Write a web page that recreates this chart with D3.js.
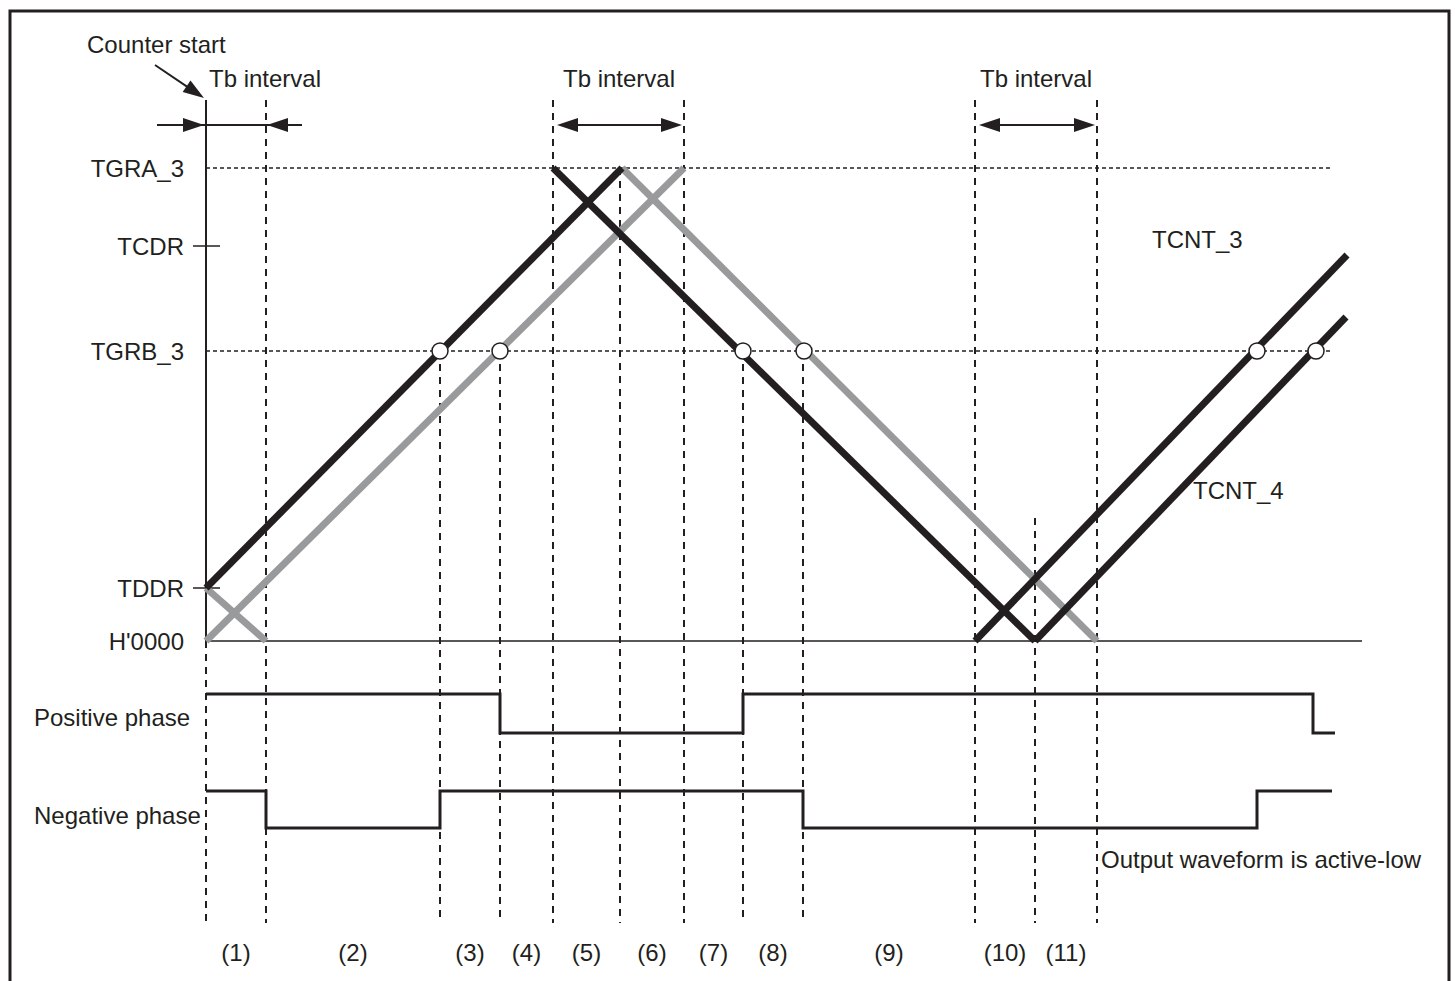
<!DOCTYPE html>
<html>
<head>
  <meta http-equiv="Content-Type" content="text/html; charset=UTF-8">
  <style>
    body { margin: 0; background: #fff; }
    text {
      font-family: "Liberation Sans", Arial, sans-serif;
      font-size: 24px;
      fill: #231f20;
    }
    .frame { fill: none; stroke: #231f20; stroke-width: 3px; }
    .axis { stroke: #231f20; stroke-width: 2px; }
    .base { stroke: #231f20; stroke-width: 1.5px; }
    .tick { stroke: #231f20; stroke-width: 1.5px; }
    .level { stroke: #231f20; stroke-width: 1.5px; stroke-dasharray: 4,3; }
    .boundary { stroke: #231f20; stroke-width: 2px; stroke-dasharray: 7,6; }
    .cnt-black, .cnt-gray { fill: none; stroke-width: 7px; stroke-linecap: butt; }
    .cnt-black { stroke: #231f20; }
    .cnt-gray { stroke: #999a9c; }
    .cmp { fill: #fff; stroke: #231f20; stroke-width: 1.5px; }
    .wave { fill: none; stroke: #231f20; stroke-width: 3px; }
    .arrow { stroke: #231f20; stroke-width: 2px; }
    .head { fill: #231f20; }
  </style>
</head>
<body>
  <svg width="1455" height="981"></svg>
  <script src="https://cdn.jsdelivr.net/npm/d3@7"></script>
  <script>
    // register levels (counter units)
    var registerNames = ["H'0000", "TDDR", "TGRB_3", "TCDR", "TGRA_3"];
    var registerValues = [0, 53, 290, 395, 473];
    var tickedRegisters = ["TDDR", "TCDR"];
    var dottedRegisters = ["TGRB_3", "TGRA_3"];

    // counter ramps as [time, count] segments
    var blackSegments = [
      [[0, 53], [416, 473]],
      [[347, 473], [829, 0]],
      [[769, 0], [1141, 386]],
      [[829, 0], [1140, 324]]
    ];
    var graySegments = [
      [[0, 0], [478, 473]],
      [[416, 473], [891, 0]],
      [[0, 53], [60, 0]]
    ];

    // compare-match points on TGRB_3
    var compareTimes = [234, 294, 537, 598, 1051, 1110];

    // period boundaries and where each dashed line starts (count)
    var boundaryTimes = [0, 60, 234, 294, 347, 414, 478, 537, 597, 769, 829, 891];
    var boundaryTops = [0, 541, 290, 290, 541, 473, 541, 290, 290, 541, 123, 541];
    var periodLabels = ["(1)", "(2)", "(3)", "(4)", "(5)", "(6)", "(7)", "(8)", "(9)", "(10)", "(11)"];

    // Tb intervals
    var tbStart = [0, 347, 769];
    var tbEnd = [60, 478, 891];
    var tbLabelAt = [59, 413, 830];

    // output waveforms [time, level]
    var positivePhase = [[0, 1], [294, 0], [537, 1], [1107, 0], [1129, 0]];
    var negativePhase = [[0, 1], [60, 0], [234, 1], [597, 0], [1051, 1], [1126, 1]];

    var svg = d3.select("svg");

    var x = d3.scaleLinear().domain([0, 1156]).range([206, 1362]),
        y = d3.scaleLinear().domain([0, 541]).range([641, 100]),
        yPos = d3.scaleLinear().domain([0, 1]).range([733, 694]),
        yNeg = d3.scaleLinear().domain([0, 1]).range([828, 791]);

    function reg(name) { return registerValues[registerNames.indexOf(name)]; }

    // frame (bottom edge runs off the page)
    svg.append("path")
        .attr("class", "frame")
        .attr("d", "M10,981V11H1449V981");

    // dotted register levels
    svg.selectAll(".level")
      .data(dottedRegisters)
      .enter().append("line")
        .attr("class", "level")
        .attr("x1", x(0))
        .attr("x2", 1330)
        .attr("y1", function(d) { return y(reg(d)); })
        .attr("y2", function(d) { return y(reg(d)); });

    // boundaries
    svg.selectAll(".boundary")
      .data(boundaryTimes)
      .enter().append("line")
        .attr("class", "boundary")
        .attr("x1", function(d) { return x(d); })
        .attr("x2", function(d) { return x(d); })
        .attr("y1", function(d, i) { return y(boundaryTops[i]); })
        .attr("y2", 923);

    // axes
    svg.append("line").attr("class", "axis")
        .attr("x1", x(0)).attr("x2", x(0))
        .attr("y1", y(541)).attr("y2", y(0));
    svg.append("line").attr("class", "base")
        .attr("x1", x(0)).attr("x2", x(1156))
        .attr("y1", y(0)).attr("y2", y(0));

    svg.selectAll(".tick")
      .data(tickedRegisters)
      .enter().append("line")
        .attr("class", "tick")
        .attr("x1", x(0) - 13)
        .attr("x2", x(0) + 14)
        .attr("y1", function(d) { return y(reg(d)); })
        .attr("y2", function(d) { return y(reg(d)); });

    svg.selectAll(".reglabel")
      .data(registerNames)
      .enter().append("text")
        .attr("class", "reglabel")
        .attr("text-anchor", "end")
        .attr("x", 184)
        .attr("y", function(d) { return y(reg(d)) + 8.5; })
        .text(function(d) { return d; });

    // counters
    var seg = d3.line()
        .x(function(d) { return x(d[0]); })
        .y(function(d) { return y(d[1]); });

    svg.selectAll(".cnt-gray")
      .data(graySegments)
      .enter().append("path")
        .attr("class", "cnt-gray")
        .attr("d", seg);

    svg.selectAll(".cnt-black")
      .data(blackSegments)
      .enter().append("path")
        .attr("class", "cnt-black")
        .attr("d", seg);

    svg.selectAll(".cmp")
      .data(compareTimes)
      .enter().append("circle")
        .attr("class", "cmp")
        .attr("cx", function(d) { return x(d); })
        .attr("cy", y(reg("TGRB_3")))
        .attr("r", 8);

    svg.append("text").attr("x", 1152).attr("y", 248).text("TCNT_3");
    svg.append("text").attr("x", 1193).attr("y", 499).text("TCNT_4");

    // output waveforms
    svg.append("path")
        .datum(positivePhase)
        .attr("class", "wave")
        .attr("d", d3.line().curve(d3.curveStepAfter)
          .x(function(d) { return x(d[0]); })
          .y(function(d) { return yPos(d[1]); }));

    svg.append("path")
        .datum(negativePhase)
        .attr("class", "wave")
        .attr("d", d3.line().curve(d3.curveStepAfter)
          .x(function(d) { return x(d[0]); })
          .y(function(d) { return yNeg(d[1]); }));

    svg.append("text").attr("x", 34).attr("y", 726).text("Positive phase");
    svg.append("text").attr("x", 34).attr("y", 824).text("Negative phase");
    svg.append("text").attr("x", 1101).attr("y", 868).text("Output waveform is active-low");

    // period labels
    svg.selectAll(".period")
      .data(periodLabels)
      .enter().append("text")
        .attr("class", "period")
        .attr("text-anchor", "middle")
        .attr("x", function(d, i) { return x((boundaryTimes[i] + boundaryTimes[i + 1]) / 2); })
        .attr("y", 961)
        .text(function(d) { return d; });

    // arrowheads
    function head(tipX, tipY, dir) {
      // dir: +1 points right, -1 points left
      return "M" + tipX + "," + tipY +
             "L" + (tipX - dir * 21) + "," + (tipY - 7) +
             "L" + (tipX - dir * 21) + "," + (tipY + 7) + "Z";
    }

    var arrowY = 125;

    // first Tb: inward arrows
    svg.append("line").attr("class", "arrow")
        .attr("x1", x(tbStart[0]) - 49).attr("x2", x(tbEnd[0]) + 36)
        .attr("y1", arrowY).attr("y2", arrowY);
    svg.append("path").attr("class", "head").attr("d", head(x(tbStart[0]) - 2, arrowY, 1));
    svg.append("path").attr("class", "head").attr("d", head(x(tbEnd[0]) + 1, arrowY, -1));

    // other Tb: outward double arrows
    for (var i = 1; i < tbStart.length; i++) {
      var a = x(tbStart[i]) + 4, b = x(tbEnd[i]) - 2;
      svg.append("line").attr("class", "arrow")
          .attr("x1", a + 10).attr("x2", b - 10)
          .attr("y1", arrowY).attr("y2", arrowY);
      svg.append("path").attr("class", "head").attr("d", head(a, arrowY, -1));
      svg.append("path").attr("class", "head").attr("d", head(b, arrowY, 1));
    }

    svg.selectAll(".tblabel")
      .data(tbLabelAt)
      .enter().append("text")
        .attr("class", "tblabel")
        .attr("text-anchor", "middle")
        .attr("x", function(d) { return x(d); })
        .attr("y", 87)
        .text("Tb interval");

    // counter start
    svg.append("text").attr("x", 87).attr("y", 53).text("Counter start");
    var sx = 155, sy = 65, ex = x(0) - 2, ey = y(541) - 2;
    var ang = Math.atan2(ey - sy, ex - sx);
    svg.append("line").attr("class", "arrow")
        .attr("x1", sx).attr("y1", sy)
        .attr("x2", ex - 12 * Math.cos(ang)).attr("y2", ey - 12 * Math.sin(ang));
    svg.append("path").attr("class", "head")
        .attr("d", head(0, 0, 1))
        .attr("transform", "translate(" + ex + "," + ey + ") rotate(" + (ang * 180 / Math.PI) + ")");
  </script>
</body>
</html>
